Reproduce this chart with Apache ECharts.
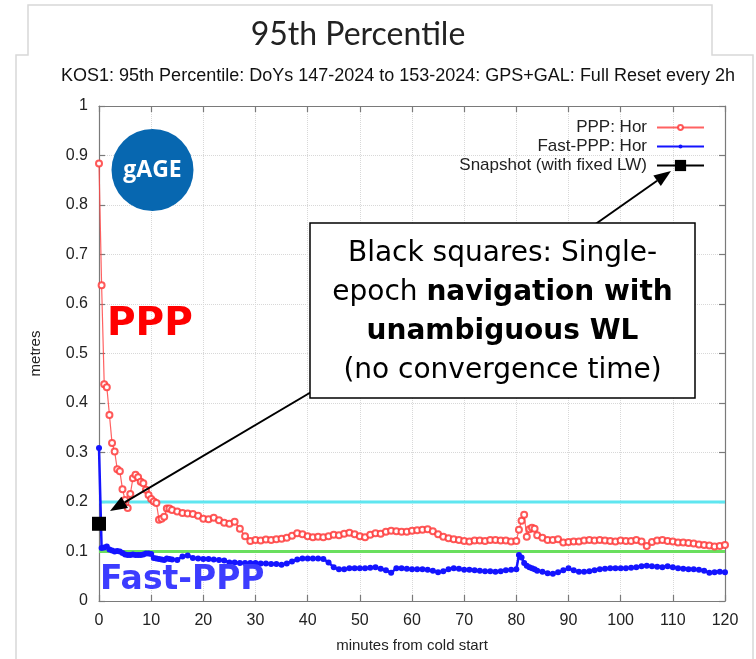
<!DOCTYPE html>
<html><head><meta charset="utf-8">
<script src="https://cdn.jsdelivr.net/npm/echarts@6/dist/echarts.min.js"></script>
<style>html,body{margin:0;padding:0;background:#fff}#c{width:756px;height:659px}</style>
</head><body><div id="c"></div>
<script>
// ---- data (minutes from cold start) ----
const minutes = [
  0,0.5,1,1.5,2,2.5,3,3.5,4,4.5,5,5.5,6,6.5,7,7.5,8,8.5,9,9.5,10,10.5,11,11.5,12,12.5,13,13.5,14,
  15,16,17,18,19,20,21,22,23,24,25,26,27,28,29,30,31,32,33,34,35,36,37,38,39,40,41,42,43,44,
  45,46,47,48,49,50,51,52,53,54,55,56,57,58,59,60,61,62,63,64,65,66,67,68,69,70,71,72,73,74,
  75,76,77,78,79,
  80,80.5,81,81.5,82,82.5,83,83.5,84,
  85,86,87,88,89,90,91,92,93,94,95,96,97,98,99,100,101,102,103,104,
  105,106,107,108,109,110,111,112,113,114,115,116,117,118,119,120
];
const pppHor = [
  0.884,0.638,0.438,0.432,0.376,0.319,0.302,0.266,0.262,0.226,0.204,0.188,0.216,0.248,0.255,0.250,0.241,0.238,0.225,0.214,0.206,0.201,0.198,0.164,0.166,0.170,0.187,0.187,0.184,
  0.181,0.178,0.177,0.176,0.172,0.166,0.165,0.168,0.163,0.158,
  0.156,0.160,0.146,0.131,0.121,0.123,0.122,0.124,0.123,0.125,
  0.126,0.128,0.132,0.137,0.135,0.131,0.129,0.130,0.129,0.131,
  0.134,0.133,0.136,0.138,0.135,0.131,0.129,0.134,0.137,0.136,
  0.140,0.142,0.141,0.140,0.140,0.142,0.143,0.144,0.145,0.141,
  0.135,0.130,0.127,0.125,0.123,0.121,0.120,0.122,0.122,0.121,
  0.123,0.123,0.122,0.122,0.120,
  0.121,0.144,0.162,0.174,0.130,0.145,0.148,0.146,0.133,
  0.128,0.123,0.123,0.125,0.118,0.119,0.120,0.120,0.122,0.123,
  0.122,0.123,0.122,0.121,0.120,0.122,0.121,0.121,0.123,0.120,
  0.111,0.119,0.122,0.123,0.121,0.120,0.118,0.118,0.117,0.116,
  0.114,0.113,0.112,0.110,0.111,0.113
];
const fastPppHor = [
  0.309,0.107,0.108,0.110,0.104,0.102,0.100,0.101,0.100,0.097,0.094,0.093,0.093,0.094,0.093,0.093,0.093,0.094,0.096,0.096,0.095,0.087,0.086,0.085,0.084,0.083,0.086,0.085,0.084,
  0.083,0.090,0.092,0.087,0.086,0.085,0.085,0.084,0.083,0.082,
  0.078,0.078,0.077,0.077,0.077,0.077,0.076,0.076,0.075,0.075,
  0.073,0.076,0.080,0.084,0.086,0.086,0.086,0.086,0.085,0.078,
  0.068,0.064,0.064,0.066,0.066,0.066,0.066,0.067,0.068,0.065,
  0.062,0.057,0.066,0.066,0.065,0.064,0.064,0.064,0.063,0.061,
  0.058,0.060,0.064,0.066,0.065,0.063,0.063,0.062,0.061,0.060,
  0.060,0.059,0.060,0.062,0.063,
  0.064,0.093,0.088,0.077,0.071,0.068,0.066,0.064,0.061,
  0.059,0.056,0.055,0.058,0.062,0.066,0.062,0.059,0.059,0.060,
  0.062,0.064,0.065,0.066,0.066,0.066,0.066,0.067,0.068,0.070,
  0.071,0.070,0.069,0.068,0.070,0.068,0.066,0.065,0.064,0.064,
  0.063,0.061,0.057,0.058,0.059,0.058
];
const snapshotMinutes = [0];
const snapshotHor = [0.156];
const cyanLevel = 0.2;
const greenLevel = 0.1;
const xRange = [0, 120];
const seriesNames = ['PPP: Hor', 'Fast-PPP: Hor', 'Snapshot (with fixed LW)'];

// ---- chart ----
const chart = echarts.init(document.getElementById('c'), null, {renderer: 'canvas'});
const FONT = 'Liberation Sans, Arial, sans-serif';

function arrow(x1, y1, x2, y2, len, half) {
  const dx = x2 - x1, dy = y2 - y1, L = Math.hypot(dx, dy);
  const ux = dx / L, uy = dy / L;
  const bx = x2 - ux * len, by = y2 - uy * len;
  return [
    {type: 'line', z: 50, silent: true, shape: {x1, y1, x2: bx, y2: by}, style: {stroke: '#000', lineWidth: 2}},
    {type: 'polygon', z: 50, silent: true, shape: {points: [[x2, y2], [bx - uy * half, by + ux * half], [bx + uy * half, by - ux * half]]}, style: {fill: '#000'}}
  ];
}

const frameStyle = {stroke: '#d8d8d8', lineWidth: 1.5};
const graphics = [
  {type: 'polyline', z: 1, silent: true, shape: {points: [[16, 659], [16, 55], [28, 55], [28, 5], [712, 5], [712, 55], [753, 55], [753, 659]]}, style: Object.assign({fill: null}, frameStyle)},
  {type: 'text', z: 2, x: 358, y: 35, style: {text: '95th Percentile', font: '32px Lato, sans-serif', fill: '#222', align: 'center', verticalAlign: 'middle'}},
  {type: 'text', z: 2, x: 398, y: 76, style: {text: 'KOS1: 95th Percentile: DoYs 147-2024 to 153-2024: GPS+GAL: Full Reset every 2h', font: '18px ' + FONT, fill: '#111', align: 'center', verticalAlign: 'middle'}},
  {type: 'circle', z: 40, silent: true, shape: {cx: 152.5, cy: 170, r: 41}, style: {fill: '#0767b0'}},
  {type: 'text', z: 41, x: 152.5, y: 170, style: {text: 'gAGE', font: 'bold 23px "Open Sans", sans-serif', fill: '#fff', align: 'center', verticalAlign: 'middle'}},
  {type: 'text', z: 41, x: 107, y: 325, style: {text: 'PPP', font: 'bold 39px "DejaVu Sans", sans-serif', fill: '#ff0000', align: 'left', verticalAlign: 'middle'}},
  {type: 'text', z: 41, x: 100, y: 580, style: {text: 'Fast-PPP', font: 'bold 33px "DejaVu Sans", sans-serif', fill: '#3c3cff', align: 'left', verticalAlign: 'middle'}}
].concat(arrow(560, 249, 671, 171, 17, 6.5), arrow(340, 375, 110, 511, 17, 6.5), [
  {type: 'rect', z: 60, silent: true, shape: {x: 310, y: 223, width: 385, height: 175}, style: {fill: '#fff', stroke: '#000', lineWidth: 1.5}},
  {type: 'text', z: 61, x: 502.5, y: 254, style: {text: 'Black squares: Single-', font: '28px "DejaVu Sans", sans-serif', fill: '#000', align: 'center', verticalAlign: 'middle'}},
  {type: 'text', z: 61, x: 502.5, y: 293, style: {text: '{n|epoch }{b|navigation with}', rich: {n: {font: '28px "DejaVu Sans", sans-serif', fill: '#000'}, b: {font: 'bold 28px "DejaVu Sans", sans-serif', fill: '#000'}}, align: 'center', verticalAlign: 'middle'}},
  {type: 'text', z: 61, x: 502.5, y: 332, style: {text: 'unambiguous WL', font: 'bold 28px "DejaVu Sans", sans-serif', fill: '#000', align: 'center', verticalAlign: 'middle'}},
  {type: 'text', z: 61, x: 502.5, y: 371, style: {text: '(no convergence time)', font: '28px "DejaVu Sans", sans-serif', fill: '#000', align: 'center', verticalAlign: 'middle'}}
]);

const axisCommon = {
  axisLine: {show: true, onZero: false, lineStyle: {color: '#7a7a7a', width: 1.2}},
  axisTick: {show: true, inside: true, length: 6, lineStyle: {color: '#7a7a7a', width: 1.2}}
};
const legendCommon = {
  orient: 'vertical', align: 'right', right: 46, itemWidth: 47, selectedMode: false,
  textStyle: {fontSize: 17, fontFamily: FONT, color: '#222', padding: [0, 5, 0, 0]}
};

chart.setOption({
  animation: false,
  backgroundColor: '#fff',
  grid: {left: 99, right: 31, top: 106, bottom: 58, containLabel: false},
  legend: [
    Object.assign({}, legendCommon, {data: [seriesNames[0]], top: 114, itemHeight: 6}),
    Object.assign({}, legendCommon, {data: [seriesNames[1]], top: 133, itemHeight: 5}),
    Object.assign({}, legendCommon, {data: [seriesNames[2]], top: 152, itemHeight: 14})
  ],
  xAxis: [
    Object.assign({type: 'value', min: xRange[0], max: xRange[1], interval: 10, position: 'bottom',
      name: 'minutes from cold start', nameLocation: 'middle', nameGap: 37,
      nameTextStyle: {fontSize: 15, fontFamily: FONT, color: '#222'},
      axisLabel: {fontSize: 16, fontFamily: FONT, color: '#222', margin: 12},
      splitLine: {show: true, lineStyle: {color: '#d8d8d8', type: 'dotted', width: 1}}}, axisCommon),
    Object.assign({type: 'value', min: xRange[0], max: xRange[1], interval: 10, position: 'top',
      axisLabel: {show: false}, splitLine: {show: false}}, axisCommon)
  ],
  yAxis: [
    Object.assign({type: 'value', min: 0, max: 1, interval: 0.1, position: 'left',
      name: 'metres', nameLocation: 'middle', nameGap: 56, nameRotate: 90,
      nameTextStyle: {fontSize: 15, fontFamily: FONT, color: '#222'},
      axisLabel: {fontSize: 16, fontFamily: FONT, color: '#222', margin: 11},
      splitLine: {show: true, lineStyle: {color: '#d8d8d8', type: 'dotted', width: 1}}}, axisCommon),
    Object.assign({type: 'value', min: 0, max: 1, interval: 0.1, position: 'right',
      axisLabel: {show: false}, splitLine: {show: false}}, axisCommon)
  ],
  series: [
    {type: 'line', name: 'cyanRef', silent: true, symbol: 'none', z: 1,
      data: [[xRange[0], cyanLevel], [xRange[1], cyanLevel]], lineStyle: {color: '#5fe6f0', width: 3}},
    {type: 'line', name: 'greenRef', silent: true, symbol: 'none', z: 1,
      data: [[xRange[0], greenLevel], [xRange[1], greenLevel]], lineStyle: {color: '#6adf5e', width: 3}},
    {type: 'line', name: seriesNames[0], z: 3, symbol: 'emptyCircle', symbolSize: 6,
      data: minutes.map((t, i) => [t, pppHor[i]]),
      lineStyle: {color: 'rgba(255,70,70,0.85)', width: 1.2},
      itemStyle: {color: 'rgba(255,60,60,0.85)', borderColor: 'rgba(255,60,60,0.85)', borderWidth: 1.2}},
    {type: 'line', name: seriesNames[1], z: 4, symbol: 'circle', symbolSize: 6,
      data: minutes.map((t, i) => [t, fastPppHor[i]]),
      lineStyle: {color: '#1414ff', width: 2.5},
      itemStyle: {color: '#1414ff'}},
    {type: 'line', name: seriesNames[2], z: 5, symbol: 'rect', symbolSize: 14, clip: false,
      data: snapshotMinutes.map((t, i) => [t, snapshotHor[i]]),
      lineStyle: {color: '#000', width: 1.2},
      itemStyle: {color: '#000'}}
  ],
  graphic: graphics
});
</script></body></html>
